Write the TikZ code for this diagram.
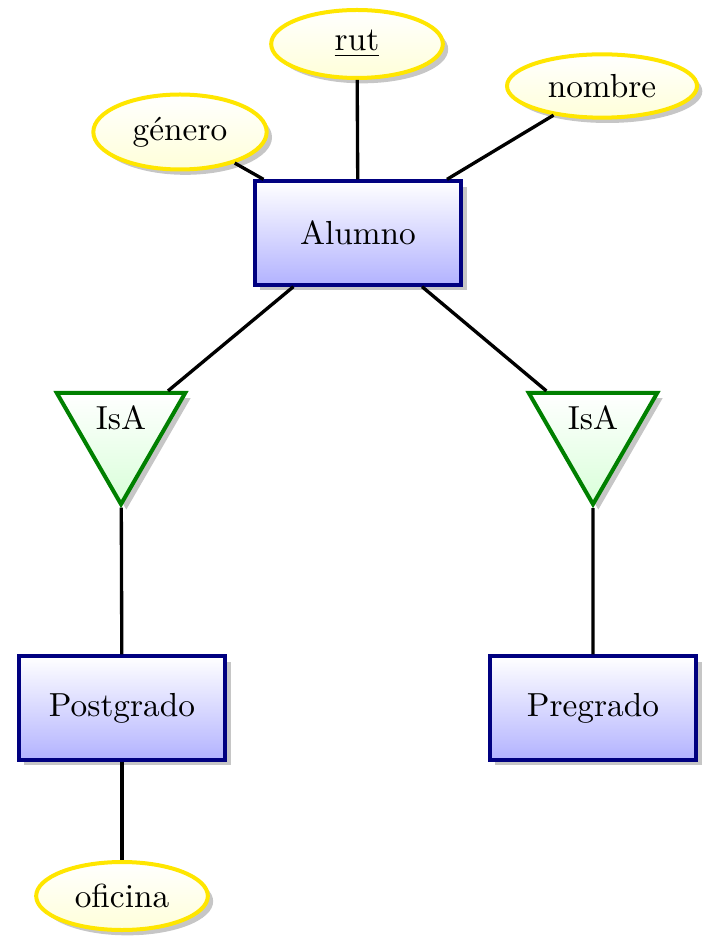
\documentclass[tikz,border=0pt]{standalone}
\usetikzlibrary{shapes.geometric,shadows}
\definecolor{entborder}{RGB}{0,0,128}
\definecolor{attrborder}{RGB}{255,230,0}
\definecolor{isaborder}{RGB}{0,128,0}
\tikzset{
	entity/.style={draw=entborder,very thick,rectangle,top color=white,bottom color=blue!30,
		minimum width=62pt,minimum height=31pt,drop shadow={shadow xshift=1.6pt,shadow yshift=-1.6pt,opacity=.45}},
	attribute/.style={draw=attrborder,very thick,ellipse,top color=white,bottom color=yellow!15,
		minimum width=51.5pt,minimum height=20.4pt,inner sep=1pt,drop shadow={shadow xshift=1.6pt,shadow yshift=-1.6pt,opacity=.45}},
	isa/.style={draw=isaborder,very thick,regular polygon,regular polygon sides=3,shape border rotate=180,
		top color=white,bottom color=green!15,minimum size=44.5pt,inner sep=0pt,text height=7pt,text depth=7pt,
		drop shadow={shadow xshift=1.6pt,shadow yshift=-1.6pt,opacity=.45}},
	link/.style={line width=1pt}
}
\begin{document}
\begin{tikzpicture}[x=0.3pt,y=-0.3pt]
		\useasboundingbox (0,0) rectangle (702,937);
		% entidades
		\node[entity] (alumno) at (358,233) {Alumno};
		\node[entity] (postgrado) at (122,708) {Postgrado};
		\node[entity] (pregrado) at (593,708) {Pregrado};
		% atributos
		\node[attribute] (rut) at (357,44) {\underline{rut}};
		\node[attribute,minimum width=57pt,minimum height=19pt] (nombre) at (602,86) {nombre};
		\node[attribute,minimum width=52pt,minimum height=22.5pt] (genero) at (180,132) {género};
		\node[attribute] (oficina) at (122,896) {oficina};
		% especializacion
		\node[isa] (isa1) at (121,430) {IsA};
		\node[isa] (isa2) at (593,430) {IsA};
		\begin{scope}[on background layer/.try]
			\foreach \a in {rut,nombre,genero,isa1,isa2}
			{
				\draw[link] (alumno) -- (\a);
			}
			\draw[link] (isa1) -- (postgrado);
			\draw[link] (isa2) -- (pregrado);
			\draw[link] (postgrado) -- (oficina);
		\end{scope}
		\end{tikzpicture}
\end{document}
